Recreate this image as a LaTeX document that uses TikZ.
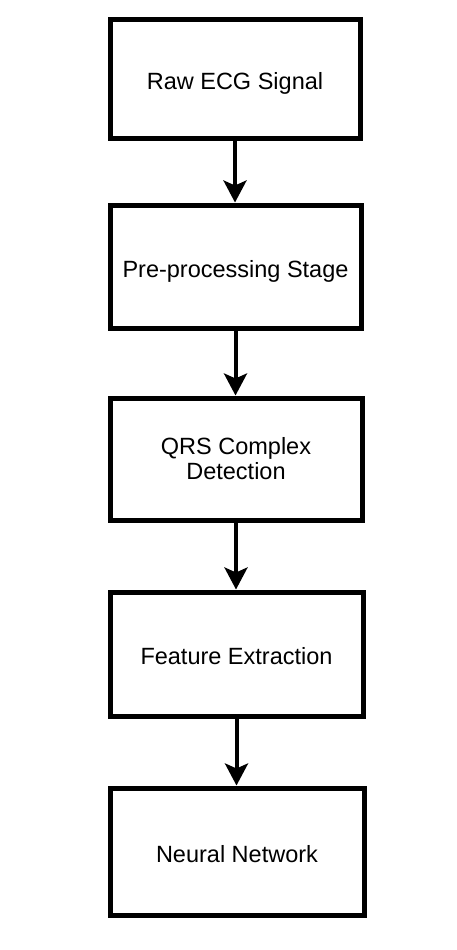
\documentclass[tikz,border=0pt]{standalone}
\usepackage{fontspec}
\setmainfont{Liberation Sans}
\usetikzlibrary{arrows.meta,calc}
\begin{document}
\begin{tikzpicture}[x=1pt,y=-1pt,
  stagebox/.style={draw=black,line width=5pt,fill=white,align=center,
    inner sep=0pt,font=\fontsize{23.5}{25}\selectfont},
  oneline/.style={text height=21pt,text depth=0pt},
  flowarrow/.style={line width=4pt,-{Stealth[length=22pt,width=23pt,inset=5pt]}}]
\useasboundingbox[fill=white] (0,0) rectangle (456,950);
\node[stagebox,oneline,minimum width=250pt,minimum height=118pt] (raw) at (235,79) {Raw ECG Signal};
\node[stagebox,oneline,minimum width=251pt,minimum height=123pt] (pre) at (235.5,266.5) {Pre-processing Stage};
\node[stagebox,minimum width=252pt,minimum height=122pt] (qrs) at (236,459) {QRS Complex\\Detection};
\node[stagebox,oneline,minimum width=253pt,minimum height=124pt] (feat) at (236.5,654) {Feature Extraction};
\node[stagebox,oneline,minimum width=254pt,minimum height=127pt] (nn) at (237,851.5) {Neural Network};
\draw[flowarrow] (raw.south) -- (raw.south |- pre.north);
\draw[flowarrow] (pre.south) -- (pre.south |- qrs.north);
\draw[flowarrow] (qrs.south) -- (qrs.south |- feat.north);
\draw[flowarrow] (feat.south) -- (feat.south |- nn.north);
\end{tikzpicture}
\end{document}
